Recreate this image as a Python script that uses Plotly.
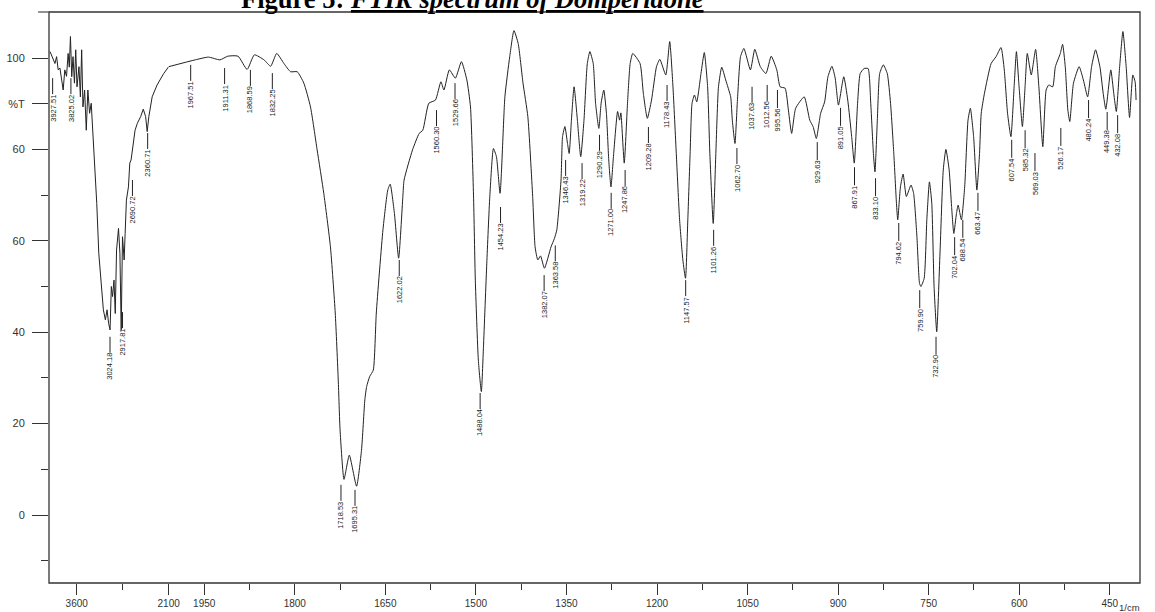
import plotly.graph_objects as go

# ---------------- data ----------------
wavenumber = [
    4035, 3955, 3928, 3902, 3874, 3847, 3821, 3794, 3766, 3740, 3721, 3702, 3681, 3660,
    3637, 3616, 3595, 3563, 3540, 3519, 3498, 3471, 3444, 3418, 3390, 3363, 3337, 3310,
    3273, 3240, 3202, 3165, 3132, 3105, 3079, 3056, 3035, 3015, 2992, 2971, 2950, 2918,
    2895, 2874, 2853, 2826, 2810, 2789, 2756, 2734, 2713, 2681, 2648, 2611, 2556, 2514,
    2476, 2450, 2423, 2369, 2289, 2181, 2100,
    2009, 1965, 1943, 1924, 1911, 1894, 1879, 1867, 1851, 1840, 1830, 1818, 1807, 1796,
    1785, 1774, 1763, 1752, 1741, 1733, 1728, 1725, 1718.5, 1709.7, 1697.7, 1689.5, 1684,
    1681, 1676, 1670, 1665, 1654, 1646, 1642, 1635, 1628, 1621, 1619, 1605, 1594, 1588,
    1578, 1567, 1558, 1553, 1544, 1534, 1524, 1515, 1509, 1504, 1501, 1496, 1491, 1487.5,
    1482, 1477, 1471, 1466, 1460, 1452, 1444, 1437, 1430, 1422, 1414, 1406, 1402, 1397.5,
    1393, 1386.5, 1375.5, 1370, 1366, 1359, 1356.5, 1352.6, 1348.3, 1345.5, 1341.8, 1337.4,
    1331.9, 1326.4, 1321, 1315.5, 1311.2, 1305.7, 1301.8, 1296.4, 1292.6, 1288.2, 1283.8,
    1280, 1276.3, 1271.8, 1265.3, 1262, 1259.9, 1254.3, 1248.9, 1244.5, 1240.2, 1228.1,
    1222.7, 1216.1, 1209.1, 1200.9, 1195.4, 1185.5, 1179, 1173.6, 1168.1, 1162.6, 1157.2,
    1152.8, 1149, 1145.2, 1142, 1138, 1134.2, 1127.2, 1121.7, 1116.2, 1112.5, 1106.9,
    1102.6, 1098.2, 1092.8, 1086.3, 1078, 1075.3, 1070.9, 1067.1, 1061.7, 1056.1, 1045.3,
    1038.1, 1028.9, 1019.6, 1010.9, 1001.6, 996.1, 987.9, 982.4, 977, 970.4, 956.2, 947,
    941.5, 936.1, 929, 922.4, 916.9, 910.3, 904.9, 899.5, 890.7, 884.1, 877.6, 873.3,
    867.8, 863.5, 857, 850.4, 846, 841.6, 839, 835.1, 831.2, 825.2, 818.6, 813.2, 807.8,
    803.4, 801.3, 796.8, 792.4, 787, 779.3, 775, 769.5, 765.2, 762.9, 757.5, 753.1, 748.8,
    744.9, 741.1, 736.7, 731.3, 725.9, 721.5, 716.1, 712.1, 708.4, 704, 701.3, 695.8,
    690.4, 684.9, 681, 675.6, 670.2, 665.8, 663, 657.6, 646.6, 638.4, 630.2, 624.8, 619.4,
    613.8, 608.5, 604.7, 600.3, 594.8, 590.4, 586.7, 580.1, 572.9, 567.5, 561, 555.5,
    551.1, 544.6, 540.2, 532, 528.2, 523.8, 519.5, 516.3, 510.2, 500.8, 493.8, 486.7,
    480.2, 473.6, 466.4, 461, 456.6, 448.4, 443.5, 439.2, 433.7, 428.3, 422.9, 417.3,
    411.9, 408.1, 406.5,
]
transmittance = [
    101.4, 98.8, 100.3, 97.4, 97.8, 95.6, 93.0, 97.4, 96.0, 101.0, 98.0, 104.7, 95.9, 100.3,
    94.5, 101.8, 93.7, 98.1, 91.5, 101.8, 89.3, 93.0, 84.2, 93.0, 87.9, 90.1, 83.5, 79.1,
    68.2, 57.3, 50.0, 44.9, 42.7, 44.9, 41.9, 40.5, 50.0, 47.8, 51.4, 44.1, 58.0, 62.7,
    57.3, 40.5, 60.9, 55.8, 61.6, 68.9, 71.8, 77.0, 77.7, 80.6, 84.2, 85.7, 87.2, 88.8,
    87.2, 83.9, 87.2, 91.5, 94.1, 96.6, 98.1,
    98.1, 99.6, 100.2, 99.6, 100.4, 100.4, 97.5, 100.7, 99.6, 98.2, 101.0, 98.8, 97.0, 97.0,
    94.5, 89.3, 79.9, 70.4, 58.7, 44.2, 29.5, 18.6, 7.8, 13.1, 6.3, 14.2, 25.2,
    28.1, 30.3, 31.7, 44.2, 62.4, 71.1, 72.4, 66.0, 56.2, 69.7, 73.3, 79.9, 83.5, 84.2,
    90.1, 90.8, 94.8, 93.0, 97.4, 95.6, 99.2, 95.2, 89.3, 70.0, 51.4, 33.9, 27.0, 36.8,
    55.1, 69.7, 80.2, 78.4, 70.4, 91.5, 100.3, 106.0, 103.2, 94.5, 87.2, 69.7, 58.7, 55.8,
    56.7, 54.0, 58.7, 60.5, 62.4, 73.3, 82.8, 85.0, 81.3, 79.1, 86.4, 93.7,
    86.4, 78.4, 86.4, 98.8, 101.4, 98.8, 90.1, 84.6, 90.1, 93.0, 87.9,
    77.7, 71.8, 79.1, 88.3, 86.4, 88.0, 77.0, 90.1, 98.8, 101.0, 98.8,
    92.3, 86.8, 90.8, 98.1, 99.7, 96.3, 103.6, 93.7, 79.1, 64.6, 55.8,
    51.8, 64.6, 79.1, 90.1, 91.9, 90.4, 96.6, 101.2, 93.7, 79.1, 63.8,
    79.1, 93.7, 98.0, 95.2, 91.5, 86.4, 81.3, 90.1, 100.3, 102.1, 97.4,
    101.9, 98.1, 96.6, 100.4, 97.4, 93.7, 93.4, 88.6, 83.5, 89.0, 91.5, 86.4,
    85.0, 82.4, 87.9, 90.4, 95.9, 98.2, 95.6, 89.7, 95.9, 90.8, 82.8, 77.0,
    90.1, 96.6, 97.7, 97.7, 90.1, 79.1, 75.1, 86.4, 96.6, 98.5, 96.6, 90.1, 79.1,
    68.2, 64.6, 71.8, 74.6, 69.7, 72.2, 70.4, 60.9, 50.7, 50.0, 51.8, 64.6, 72.9,
    68.2, 50.0, 40.1, 57.3, 75.5, 80.0, 75.5, 67.5, 61.6, 66.0, 67.8, 64.6,
    71.8, 86.4, 89.0, 82.8, 71.1, 79.1, 87.9, 92.3, 98.8, 100.3, 102.3, 97.4, 87.9,
    82.8, 93.7, 101.4, 93.7, 85.0, 93.7, 101.0, 96.3, 101.9, 93.7, 80.6, 93.0,
    94.1, 93.7, 98.1, 101.0, 103.0, 98.1, 88.6, 86.1, 94.5, 98.1, 95.2, 91.5,
    98.1, 101.8, 98.1, 92.3, 88.8, 97.4, 92.3, 88.3, 98.1, 105.8, 98.1, 87.0,
    96.3, 94.8, 90.8,
]

# peak labels and the %T where each label's leader line starts
peak_labels = [
    "3927.51", "3825.02", "3024.18", "2917.81", "2690.72", "2360.71",
    "1967.51", "1911.31", "1868.59", "1832.25", "1718.53", "1695.31", "1622.02",
    "1560.30", "1529.66", "1488.04", "1454.23", "1382.07", "1363.58", "1346.43",
    "1319.22", "1290.29", "1271.00", "1247.86", "1209.28", "1178.43", "1147.57",
    "1101.26", "1062.70", "1037.63", "1012.56", "995.56", "929.63", "891.05",
    "867.91", "833.10", "794.62", "759.90", "732.90", "702.04", "688.54", "663.47",
    "607.54", "585.32", "569.03", "526.17", "480.24", "449.38", "432.08",
]
peak_label_t = [
    95.6, 95.6, 39.0, 44.4, 73.3, 83.6,
    98.5, 97.8, 97.4, 96.7, 6.6, 5.5, 55.8,
    88.6, 94.5, 26.7, 67.4, 52.5, 59.0, 77.7,
    77.0, 83.2, 70.5, 75.5, 84.9, 94.1, 51.4,
    62.4, 80.3, 93.7, 94.1, 93.0, 81.6, 89.1,
    76.1, 73.7, 63.9, 49.2, 39.0, 60.8, 64.6, 70.5,
    82.1, 84.2, 79.2, 84.7, 90.8, 88.2, 87.5,
]
# small horizontal nudges (px) so labels sit where the scan prints them
label_nudge = {"3927.51": -4, "3825.02": 8, "3024.18": -2, "2917.81": 4,
               "2360.71": -5}

# axis ticks (as printed on the chart)
x_left_ticks = [3600, 2100]
x_left_minor = [2850]
x_right_ticks = [1950, 1800, 1650, 1500, 1350, 1200, 1050, 900, 750, 600, 450]
x_right_minor = [1875, 1725, 1575, 1425, 1275, 1125, 975, 825, 675, 525]
y_ticks = [100, 90, 80, 60, 40, 20, 0]
y_tick_text = ["100", "%T", "60", "60", "40", "20", "0"]
y_minor = [70, 50, 30, 10, -10]

title_plain = "Figure 5: "
title_italic = "FTIR spectrum of Domperidone"
unit_text = "1/cm"

# ---------------- figure ----------------
W, H = 1155, 612
ml, mr, mt, mb = 49, 3, 12, 29
pw = W - ml - mr
ph = H - mt - mb
split = (170 - ml) / pw

left_x = [w for w in wavenumber if w >= 2100]
left_t = [t for w, t in zip(wavenumber, transmittance) if w >= 2100]
right_x = [w for w in wavenumber if w <= 2010]
right_t = [t for w, t in zip(wavenumber, transmittance) if w <= 2010]

ink = "#222222"
fig = go.Figure()
fig.add_trace(go.Scatter(x=left_x, y=left_t, xaxis="x", yaxis="y", mode="lines",
                         line=dict(color=ink, width=1), hoverinfo="skip"))
fig.add_trace(go.Scatter(x=right_x, y=right_t, xaxis="x2", yaxis="y", mode="lines",
                         line=dict(color=ink, width=1, shape="spline", smoothing=0.5),
                         hoverinfo="skip"))

tickfont_x = dict(family="Liberation Sans, Arial", size=10, color="#333")
common_x = dict(showgrid=False, zeroline=False, showline=False, ticks="outside",
                ticklen=11, tickwidth=1, tickcolor="#333", tickfont=tickfont_x,
                anchor="y", fixedrange=True)
fig.update_layout(
    width=W, height=H, margin=dict(l=ml, r=mr, t=mt, b=mb),
    paper_bgcolor="white", plot_bgcolor="white", showlegend=False,
    xaxis=dict(domain=[0, split], range=[4052, 2099.5], tickmode="array",
               tickvals=x_left_ticks, ticktext=[str(v) for v in x_left_ticks],
               minor=dict(tickvals=x_left_minor, ticks="outside", ticklen=6,
                          tickcolor="#333"), **common_x),
    xaxis2=dict(domain=[split, 1], range=[2008.9, 400], tickmode="array",
                tickvals=x_right_ticks, ticktext=[str(v) for v in x_right_ticks],
                minor=dict(tickvals=x_right_minor, ticks="outside", ticklen=6,
                           tickcolor="#333"), **common_x),
    yaxis=dict(domain=[0, 1], range=[-14.88, 110.07], anchor="x", showgrid=False,
               zeroline=False, showline=False, ticks="outside", ticklen=16,
               tickcolor="#333", tickmode="array", tickvals=y_ticks,
               ticktext=y_tick_text, ticklabelstandoff=5,
               tickfont=dict(family="Liberation Sans, Arial", size=11, color="#333"),
               minor=dict(tickvals=y_minor, ticks="outside", ticklen=7,
                          tickcolor="#333"), fixedrange=True),
)

# frame, plus the short overhang of the scanned top rule
fig.add_shape(type="rect", xref="paper", yref="paper", x0=0, x1=1, y0=0, y1=1,
              line=dict(color="#333", width=1.3), layer="above")
fig.add_shape(type="line", xref="paper", yref="paper", x0=-11 / pw, x1=0, y0=1, y1=1,
              line=dict(color="#555", width=1.3), layer="above")

# peak labels
for lab, t in zip(peak_labels, peak_label_t):
    wn = float(lab)
    left = wn >= 2100
    fig.add_annotation(
        x=wn, y=t, xref="x" if left else "x2", yref="y",
        xshift=label_nudge.get(lab, 0 if left else -3),
        text=lab, textangle=-90, showarrow=True, arrowhead=0, arrowwidth=1,
        arrowcolor=ink, ax=0, ay=30, standoff=0,
        font=dict(family="Liberation Sans, Arial", size=7.5, color=ink),
        borderpad=0,
    )

# unit label (bottom-right, below and right of the 450 tick label)
fig.add_annotation(x=(1153 - ml) / pw, y=-(607 - (H - mb)) / ph,
                   xref="paper", yref="paper", xanchor="right", yanchor="middle",
                   text=unit_text, showarrow=False, borderpad=0,
                   font=dict(family="Liberation Sans, Arial", size=9.5, color="#333"))

# title (cut off at the top like the scan)
fig.add_annotation(
    x=(477 - ml) / pw, y=1, xref="paper", yref="paper", yanchor="bottom",
    yshift=-4, showarrow=False,
    text="<b>" + title_plain + "<i><span style='text-decoration:underline'>"
         + title_italic + "</span></i></b>",
    font=dict(family="Liberation Serif, Times New Roman", size=26.5, color="black"),
)

fig.write_html("out.html", config={"displayModeBar": False},
               post_script="document.body.style.margin='0px';"
                           "document.body.style.overflow='hidden';")
